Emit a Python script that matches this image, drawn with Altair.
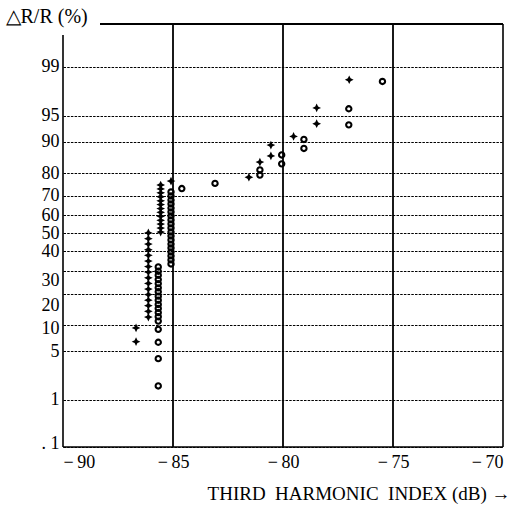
import altair as alt
import pandas as pd
from statistics import NormalDist

nd = NormalDist()

# ---- data ----
cross_db = [-86.68, -86.68,
            -86.12, -86.12, -86.12, -86.12, -86.12, -86.12, -86.12, -86.12,
            -86.12, -86.12, -86.12, -86.12, -86.12, -86.12, -86.12, -86.12,
            -85.56, -85.56, -85.56, -85.56, -85.56, -85.56, -85.56, -85.56,
            -85.56, -85.56, -85.56, -85.56, -85.56,
            -85.09, -81.55, -81.05, -80.55, -80.55, -79.52, -78.47, -78.47, -76.99]
cross_pct = [9.3, 6.5,
             50.2, 47.0, 44.0, 40.9, 37.9, 34.9, 32.1, 29.4,
             26.7, 24.2, 21.8, 19.6, 17.5, 15.6, 13.8, 12.1,
             75.0, 73.2, 71.4, 69.5, 67.5, 65.6, 63.5, 61.5,
             59.4, 57.2, 55.1, 52.9, 50.7,
             76.7, 78.3, 84.0, 89.1, 86.0, 91.2, 96.0, 93.7, 98.4]

circle_db = [-85.67, -85.67, -85.67, -85.67, -85.67, -85.67, -85.67, -85.67, -85.67,
             -85.67, -85.67, -85.67, -85.67, -85.67, -85.67, -85.67, -85.67, -85.67,
             -85.09, -85.09, -85.09, -85.09, -85.09, -85.09, -85.09, -85.09, -85.09, -85.09,
             -85.09, -85.09, -85.09, -85.09, -85.09, -85.09, -85.09, -85.09, -85.09,
             -84.60, -83.09, -81.05, -81.05, -80.06, -80.06, -79.05, -79.05, -77.01, -77.01, -75.48]
circle_pct = [31.9, 29.8, 27.9, 25.9, 24.1, 22.3, 20.7, 19.0, 17.5,
              16.0, 14.7, 13.4, 12.2, 11.0, 9.0, 6.4, 4.0, 1.65,
              71.8, 69.9, 67.9, 65.9, 63.8, 61.7, 59.6, 57.4, 55.2, 53.0,
              50.7, 48.5, 46.3, 44.0, 41.9, 39.7, 37.6, 35.5, 33.4,
              73.4, 75.7, 81.2, 79.2, 86.3, 83.4, 90.5, 88.2, 95.9, 93.5, 98.3]

x_ticks = [-90, -85, -80, -75, -70]
x_lines = [-85, -80, -75]
y_tick_pct = [99, 95, 90, 80, 70, 60, 50, 40, 30, 20, 10, 5, 1]
y_tick_labels = ["99", "95", "90", "80", "70", "60", "50", "40", "30", "20", "10", "5", "1"]
bottom_label = ". 1"
y_domain_z = [-2.985, 2.923]   # plot spans roughly 0.14% .. 99.83% on the probability scale

# ---- build tables ----
def z(p):
    return nd.inv_cdf(p / 100.0)

crosses = pd.DataFrame({"db": cross_db, "pct": cross_pct})
crosses["z"] = crosses["pct"].map(z)
circles = pd.DataFrame({"db": circle_db, "pct": circle_pct})
circles["z"] = circles["pct"].map(z)
vlines = pd.DataFrame({"v": x_lines})

tick_z = [z(p) for p in y_tick_pct] + [y_domain_z[0]]
label_expr = "'" + bottom_label + "'"
for tz, lab in sorted(zip(tick_z[:-1], y_tick_labels), key=lambda t: t[0]):
    label_expr = f"datum.value > {tz - 0.05:.4f} ? '{lab}' : ({label_expr})"

z30 = z(30)
z20 = z(20)
z10 = z(10)

FONT = "Liberation Serif"
W, H = 440, 423

xscale = alt.Scale(domain=[-90, -70], nice=False, zero=False)
yscale = alt.Scale(domain=y_domain_z, nice=False, zero=False)

xaxis = alt.Axis(
    values=x_ticks, tickCount=10, labelFlush=True, grid=False, domain=False, ticks=False,
    tickSize=0, labelOverlap=False,
    labelExpr="datum.value < 0 ? '\u2212\u2009' + abs(datum.value) : datum.value",
    labelFont=FONT, labelFontSize=18, labelColor="black", labelPadding=6,
    title="THIRD\u00a0\u00a0HARMONIC\u00a0\u00a0INDEX\u00a0(dB)\u00a0\u2192", titleFont=FONT,
    titleFontSize=19, titleFontWeight="normal", titleColor="black", titleAlign="right",
    titleX=W + 7, titleY=46, titleBaseline="middle",
)
yaxis = alt.Axis(
    values=tick_z, tickCount=30, grid=True, gridColor="black", gridDash=[2.5, 1.2],
    gridWidth=1.1, domain=False, ticks=False, tickSize=0, labelExpr=label_expr,
    labelOverlap=False,
    labelFont=FONT, labelFontSize=18, labelColor="black", labelPadding=4,
    labelBaseline="middle",
    labelOffset={"condition": [
        {"test": f"abs(datum.value - ({z30:.4f})) < 0.01", "value": 10},
        {"test": f"abs(datum.value - ({z20:.4f})) < 0.01", "value": 12},
        {"test": f"abs(datum.value - ({z10:.4f})) < 0.01", "value": 3},
        {"test": f"datum.value < -2.9", "value": -4},
    ], "value": 0},
    title="\u25b3R/R (%)", titleFont=FONT, titleFontSize=20, titleFontWeight="normal",
    titleColor="black", titleAngle=0, titleAlign="left", titleBaseline="middle",
    titleX=-58, titleY=-8,
)

circ = alt.Chart(circles).mark_point(
    shape="circle", filled=False, color="black", strokeWidth=2.1, size=28, opacity=1
).encode(
    x=alt.X("db:Q", scale=xscale, axis=xaxis),
    y=alt.Y("z:Q", scale=yscale, axis=yaxis),
)

star = "M0,-1L0.32,-0.32L1,0L0.32,0.32L0,1L-0.32,0.32L-1,0L-0.32,-0.32Z"
cross = alt.Chart(crosses).mark_point(
    shape=star, filled=True, color="black", size=76, opacity=1, strokeWidth=0.7
).encode(
    x=alt.X("db:Q", scale=xscale),
    y=alt.Y("z:Q", scale=yscale),
)

vl = alt.Chart(vlines).mark_rule(color="black", strokeWidth=1.8).encode(
    x=alt.X("v:Q", scale=xscale)
)

frame_top = alt.Chart().mark_rule(color="black", strokeWidth=2).encode(
    x=alt.value(37), x2=alt.value(W), y=alt.value(0))
frame_left = alt.Chart().mark_rule(color="black", strokeWidth=1.6).encode(
    x=alt.value(0), y=alt.value(11), y2=alt.value(H))
frame_right = alt.Chart().mark_rule(color="black", strokeWidth=1.6).encode(
    x=alt.value(W), y=alt.value(0), y2=alt.value(H))
frame_bottom = alt.Chart().mark_rule(color="black", strokeWidth=1.6).encode(
    x=alt.value(0), x2=alt.value(W), y=alt.value(H))

chart = alt.layer(
    circ, vl, cross, frame_top, frame_left, frame_right, frame_bottom
).properties(
    width=W, height=H,
    autosize=alt.AutoSizeParams(type="none"),
    padding={"left": 63, "top": 24, "right": 10, "bottom": 63},
    background="white",
).configure_view(stroke=None)

chart.save("out.html", embed_options={"renderer": "svg", "actions": False})
